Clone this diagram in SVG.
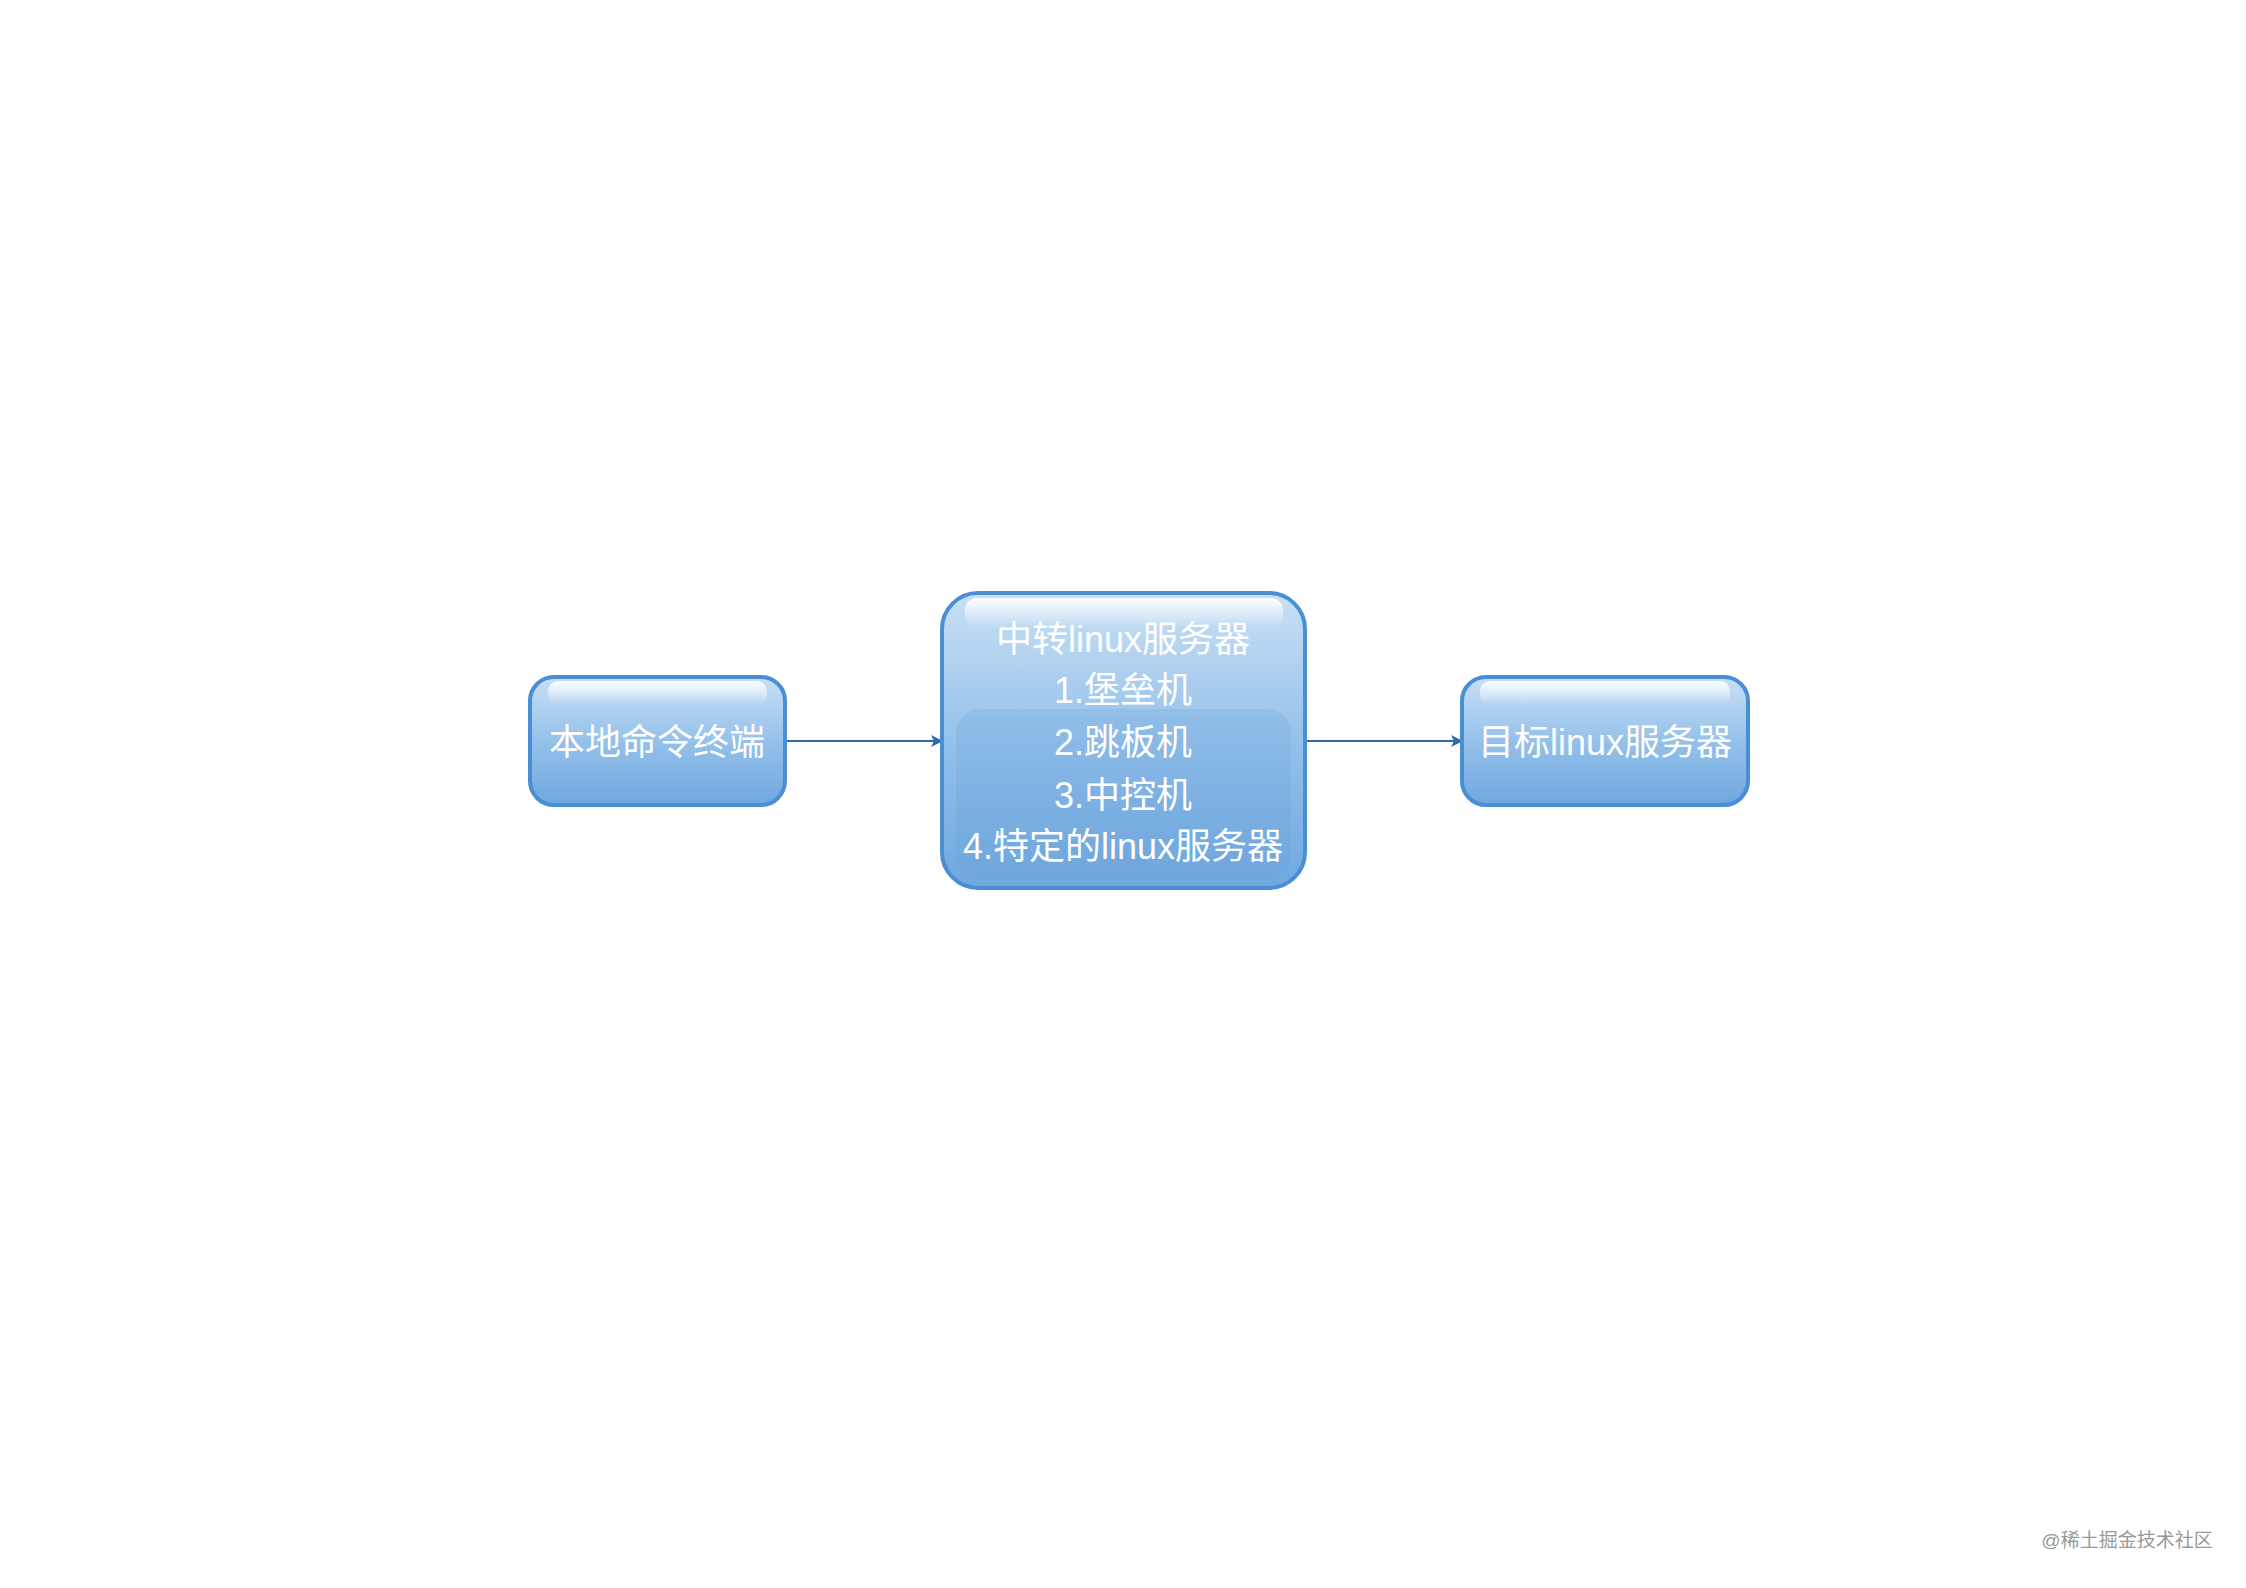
<svg xmlns="http://www.w3.org/2000/svg" width="2246" height="1588" viewBox="0 0 2246 1588">
<style>
.box{stroke:#4a8fd6;stroke-width:4;fill:url(#g)}
.t{font-family:"Liberation Sans","Noto Sans CJK SC",sans-serif;font-size:36px;fill:#fff;text-anchor:middle;dominant-baseline:central}
.c{stroke:#2f6aa8;stroke-width:2;fill:none;marker-end:url(#a)}
</style>
<defs>
<linearGradient id="g" x1="0" y1="0" x2="0" y2="1">
<stop offset="0" stop-color="#c9e0f5"/><stop offset="0.5" stop-color="#95c1ea"/><stop offset="1" stop-color="#6fa8df"/></linearGradient>
<linearGradient id="h" x1="0" y1="0" x2="0" y2="1">
<stop offset="0" stop-color="#fff" stop-opacity="0.95"/><stop offset="1" stop-color="#fff" stop-opacity="0"/></linearGradient>
<marker id="a" markerWidth="12" markerHeight="12" refX="11" refY="6" orient="auto" markerUnits="userSpaceOnUse"><path d="M0,0 L12,6 L0,12 L3,6 Z" fill="#2f6aa8"/></marker>
</defs>
<g id="connectors">
<line class="c" x1="786" y1="741" x2="942" y2="741"/>
<line class="c" x1="1307" y1="741" x2="1462" y2="741"/>
</g>
<g id="n1">
<rect class="box" x="530" y="677" width="255" height="128" rx="24"/>
<rect x="548" y="681" width="219" height="24" rx="10" fill="url(#h)"/>
<text class="t" x="657" y="742">本地命令终端</text>
</g>
<g id="n2">
<rect class="box" x="942" y="593" width="363" height="295" rx="36"/>
<rect x="965" y="598" width="318" height="30" rx="12" fill="url(#h)"/>
<rect x="956" y="709" width="335" height="170" rx="24" fill="#5f9ad6" opacity="0.2"/>
<text class="t" x="1123" y="639">中转linux服务器</text>
<text class="t" x="1123" y="690">1.堡垒机</text>
<text class="t" x="1123" y="742">2.跳板机</text>
<text class="t" x="1123" y="795">3.中控机</text>
<text class="t" x="1123" y="846">4.特定的linux服务器</text>
</g>
<g id="n3">
<rect class="box" x="1462" y="677" width="286" height="128" rx="24"/>
<rect x="1480" y="681" width="250" height="24" rx="10" fill="url(#h)"/>
<text class="t" x="1605" y="742">目标linux服务器</text>
</g>
<text x="2127" y="1547" font-family="Liberation Sans,'Noto Sans CJK SC',sans-serif" font-size="19" fill="#999" text-anchor="middle">@稀土掘金技术社区</text>
</svg>
